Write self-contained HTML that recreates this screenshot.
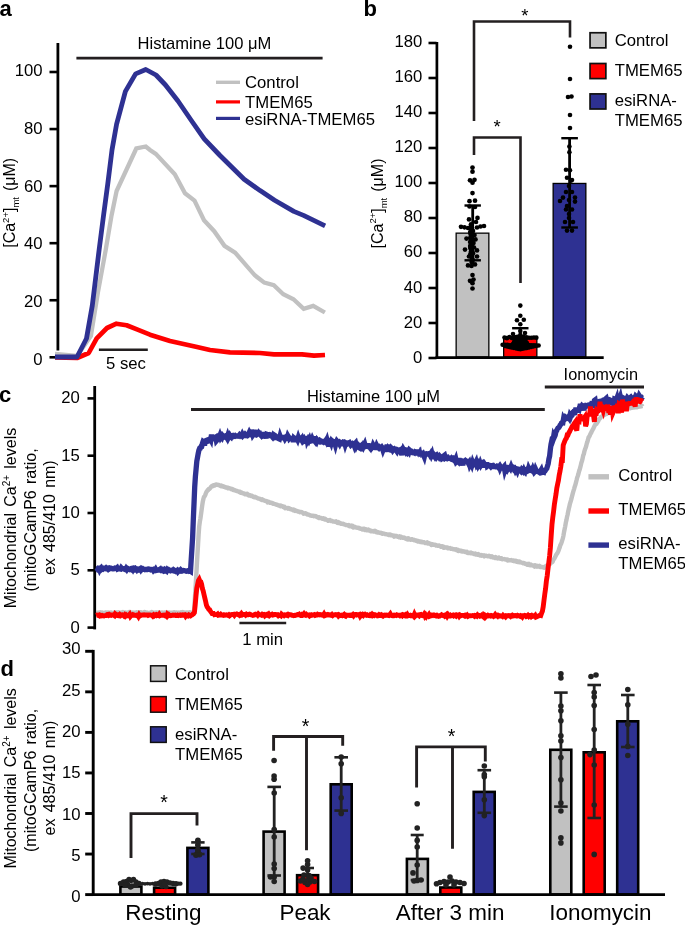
<!DOCTYPE html>
<html><head><meta charset="utf-8"><style>
html,body{margin:0;padding:0;background:#fff;}
svg{display:block;will-change:transform;}
text{font-family:"Liberation Sans",sans-serif;fill:#000;}
</style></head><body>
<svg width="685" height="925" viewBox="0 0 685 925">
<rect width="685" height="925" fill="#fff"/>
<text x="-0.5" y="16" font-size="22" text-anchor="start" font-weight="bold" >a</text>
<line x1="57.9" y1="43" x2="57.9" y2="350.5" stroke="#000" stroke-width="2.8" stroke-linecap="butt"/>
<line x1="49.5" y1="357.3" x2="56" y2="357.3" stroke="#000" stroke-width="2.6" stroke-linecap="butt"/>
<text transform="translate(42.6,364.8) scale(1.045,1)" font-size="16" text-anchor="end" font-weight="normal" >0</text>
<line x1="49.5" y1="300.24" x2="57.5" y2="300.24" stroke="#000" stroke-width="2.6" stroke-linecap="butt"/>
<text transform="translate(42.6,307.12) scale(1.045,1)" font-size="16" text-anchor="end" font-weight="normal" >20</text>
<line x1="49.5" y1="243.18" x2="57.5" y2="243.18" stroke="#000" stroke-width="2.6" stroke-linecap="butt"/>
<text transform="translate(42.6,249.44) scale(1.045,1)" font-size="16" text-anchor="end" font-weight="normal" >40</text>
<line x1="49.5" y1="186.12" x2="57.5" y2="186.12" stroke="#000" stroke-width="2.6" stroke-linecap="butt"/>
<text transform="translate(42.6,191.76000000000002) scale(1.045,1)" font-size="16" text-anchor="end" font-weight="normal" >60</text>
<line x1="49.5" y1="129.06" x2="57.5" y2="129.06" stroke="#000" stroke-width="2.6" stroke-linecap="butt"/>
<text transform="translate(42.6,134.08) scale(1.045,1)" font-size="16" text-anchor="end" font-weight="normal" >80</text>
<line x1="49.5" y1="72.0" x2="57.5" y2="72.0" stroke="#000" stroke-width="2.6" stroke-linecap="butt"/>
<text transform="translate(42.6,76.40000000000002) scale(1.045,1)" font-size="16" text-anchor="end" font-weight="normal" >100</text>
<text transform="translate(15,202.8) rotate(-90)" font-size="16" text-anchor="middle">[Ca<tspan font-size="9.5" dy="-6.5">2+</tspan><tspan dy="6.5">]</tspan><tspan font-size="9.5" dy="4.2">mt</tspan><tspan dy="-4.2" dx="1.6"> (μM)</tspan></text>
<line x1="76.4" y1="58.1" x2="322.6" y2="58.1" stroke="#231f20" stroke-width="2.8" stroke-linecap="butt"/>
<text transform="translate(137.6,49) scale(1.035,1)" font-size="16" text-anchor="start" font-weight="normal" >Histamine 100 μM</text>
<polyline points="55.00,354.00 77.00,356.00 90.90,336.00 98.00,292.00 105.70,250.00 111.50,215.70 116.60,191.00 136.30,148.50 145.80,146.50 150.00,150.00 155.80,153.90 174.80,174.30 185.00,193.30 194.50,200.60 204.00,220.30 214.20,231.20 224.50,245.80 235.10,252.60 254.80,275.30 264.30,282.60 273.80,285.20 283.30,294.20 293.50,299.30 303.70,308.80 313.20,305.90 324.90,312.50" fill="none" stroke="#c1c1c1" stroke-width="4.3" stroke-linejoin="miter" stroke-linecap="butt"/>
<polyline points="55.00,357.50 77.00,358.00 88.70,353.00 96.70,338.30 107.00,328.00 116.40,323.70 126.60,325.20 137.60,329.60 150.00,334.70 170.00,341.00 197.00,347.00 210.00,350.00 230.00,352.40 260.00,353.00 274.00,354.40 302.00,354.40 314.00,355.60 325.00,355.00" fill="none" stroke="#ff0000" stroke-width="4.7" stroke-linejoin="round" stroke-linecap="butt"/>
<polyline points="55.00,357.00 77.00,357.00 86.50,338.50 92.30,305.50 99.10,250.00 103.50,215.70 107.80,183.60 112.00,150.00 116.60,124.20 125.40,91.40 135.60,73.90 145.80,69.50 156.00,75.00 165.50,85.00 178.00,101.00 191.00,120.00 204.20,138.80 220.00,155.50 244.10,179.30 260.10,190.60 274.60,200.20 293.80,211.40 303.50,215.40 325.10,225.90" fill="none" stroke="#2e3192" stroke-width="4.8" stroke-linejoin="round" stroke-linecap="butt"/>
<line x1="216" y1="82.3" x2="240" y2="82.3" stroke="#c1c1c1" stroke-width="3.4" stroke-linecap="butt"/>
<line x1="216" y1="101.9" x2="240" y2="101.9" stroke="#ff0000" stroke-width="3.2" stroke-linecap="butt"/>
<line x1="216" y1="118.4" x2="240" y2="118.4" stroke="#2e3192" stroke-width="3.2" stroke-linecap="butt"/>
<text transform="translate(245,88) scale(1.045,1)" font-size="16" text-anchor="start" font-weight="normal" >Control</text>
<text transform="translate(245,107.5) scale(1.045,1)" font-size="16" text-anchor="start" font-weight="normal" >TMEM65</text>
<text transform="translate(245,125) scale(1.045,1)" font-size="16" text-anchor="start" font-weight="normal" >esiRNA-TMEM65</text>
<line x1="98.9" y1="349.7" x2="147.8" y2="349.7" stroke="#231f20" stroke-width="2.6" stroke-linecap="butt"/>
<text transform="translate(106,368.8) scale(1.045,1)" font-size="16" text-anchor="start" font-weight="normal" >5 sec</text>
<text x="363.5" y="15.8" font-size="22" text-anchor="start" font-weight="bold" >b</text>
<line x1="436.9" y1="42" x2="436.9" y2="358" stroke="#000" stroke-width="2.7" stroke-linecap="butt"/>
<line x1="428.5" y1="358.0" x2="436.5" y2="358.0" stroke="#000" stroke-width="2.6" stroke-linecap="butt"/>
<text transform="translate(422.3,362.8) scale(1.045,1)" font-size="16" text-anchor="end" font-weight="normal" >0</text>
<line x1="428.5" y1="323.0" x2="436.5" y2="323.0" stroke="#000" stroke-width="2.6" stroke-linecap="butt"/>
<text transform="translate(422.3,327.688) scale(1.045,1)" font-size="16" text-anchor="end" font-weight="normal" >20</text>
<line x1="428.5" y1="288.0" x2="436.5" y2="288.0" stroke="#000" stroke-width="2.6" stroke-linecap="butt"/>
<text transform="translate(422.3,292.576) scale(1.045,1)" font-size="16" text-anchor="end" font-weight="normal" >40</text>
<line x1="428.5" y1="253.0" x2="436.5" y2="253.0" stroke="#000" stroke-width="2.6" stroke-linecap="butt"/>
<text transform="translate(422.3,257.464) scale(1.045,1)" font-size="16" text-anchor="end" font-weight="normal" >60</text>
<line x1="428.5" y1="218.0" x2="436.5" y2="218.0" stroke="#000" stroke-width="2.6" stroke-linecap="butt"/>
<text transform="translate(422.3,222.352) scale(1.045,1)" font-size="16" text-anchor="end" font-weight="normal" >80</text>
<line x1="428.5" y1="183.0" x2="436.5" y2="183.0" stroke="#000" stroke-width="2.6" stroke-linecap="butt"/>
<text transform="translate(422.3,187.24) scale(1.045,1)" font-size="16" text-anchor="end" font-weight="normal" >100</text>
<line x1="428.5" y1="148.0" x2="436.5" y2="148.0" stroke="#000" stroke-width="2.6" stroke-linecap="butt"/>
<text transform="translate(422.3,152.12800000000001) scale(1.045,1)" font-size="16" text-anchor="end" font-weight="normal" >120</text>
<line x1="428.5" y1="113.0" x2="436.5" y2="113.0" stroke="#000" stroke-width="2.6" stroke-linecap="butt"/>
<text transform="translate(422.3,117.01599999999998) scale(1.045,1)" font-size="16" text-anchor="end" font-weight="normal" >140</text>
<line x1="428.5" y1="78.0" x2="436.5" y2="78.0" stroke="#000" stroke-width="2.6" stroke-linecap="butt"/>
<text transform="translate(422.3,81.90399999999998) scale(1.045,1)" font-size="16" text-anchor="end" font-weight="normal" >160</text>
<line x1="428.5" y1="43.0" x2="436.5" y2="43.0" stroke="#000" stroke-width="2.6" stroke-linecap="butt"/>
<text transform="translate(422.3,46.792000000000016) scale(1.045,1)" font-size="16" text-anchor="end" font-weight="normal" >180</text>
<text transform="translate(382.6,203.5) rotate(-90)" font-size="16" text-anchor="middle">[Ca<tspan font-size="9.5" dy="-6.5">2+</tspan><tspan dy="6.5">]</tspan><tspan font-size="9.5" dy="4.2">mt</tspan><tspan dy="-4.2" dx="1.6"> (μM)</tspan></text>
<rect x="456.15" y="233.15" width="32.7" height="123.85" fill="#c1c1c1" stroke="#000" stroke-width="1.3"/>
<rect x="503.65" y="337.95" width="33.2" height="19.04999999999999" fill="#ff0000" stroke="#000" stroke-width="1.3"/>
<rect x="553.15" y="183.45000000000002" width="32.7" height="173.54999999999998" fill="#2e3192" stroke="#000" stroke-width="1.3"/>
<line x1="435.5" y1="357.6" x2="603.7" y2="357.6" stroke="#000" stroke-width="2.6" stroke-linecap="butt"/>
<circle cx="472.5" cy="167.6" r="2.35" fill="#000"/>
<circle cx="472.5" cy="171.7" r="2.35" fill="#000"/>
<circle cx="470" cy="180.3" r="2.35" fill="#000"/>
<circle cx="474.5" cy="179.8" r="2.35" fill="#000"/>
<circle cx="472.5" cy="182.7" r="2.35" fill="#000"/>
<circle cx="472.5" cy="193.1" r="2.35" fill="#000"/>
<circle cx="469.5" cy="201.2" r="2.35" fill="#000"/>
<circle cx="475" cy="200.7" r="2.35" fill="#000"/>
<circle cx="469.5" cy="206.5" r="2.35" fill="#000"/>
<circle cx="475" cy="207" r="2.35" fill="#000"/>
<circle cx="469" cy="219.4" r="2.35" fill="#000"/>
<circle cx="477.5" cy="217.9" r="2.35" fill="#000"/>
<circle cx="476" cy="222" r="2.35" fill="#000"/>
<circle cx="471" cy="224.3" r="2.35" fill="#000"/>
<circle cx="461" cy="226.8" r="2.35" fill="#000"/>
<circle cx="464.5" cy="227.3" r="2.35" fill="#000"/>
<circle cx="468" cy="228" r="2.35" fill="#000"/>
<circle cx="477" cy="227.5" r="2.35" fill="#000"/>
<circle cx="480.5" cy="226.5" r="2.35" fill="#000"/>
<circle cx="484" cy="226" r="2.35" fill="#000"/>
<circle cx="472" cy="229" r="2.35" fill="#000"/>
<circle cx="473" cy="231" r="2.35" fill="#000"/>
<circle cx="470.5" cy="234" r="2.35" fill="#000"/>
<circle cx="474.5" cy="235" r="2.35" fill="#000"/>
<circle cx="466.5" cy="238.6" r="2.35" fill="#000"/>
<circle cx="475.5" cy="239.4" r="2.35" fill="#000"/>
<circle cx="471" cy="241" r="2.35" fill="#000"/>
<circle cx="473.5" cy="243" r="2.35" fill="#000"/>
<circle cx="470.5" cy="246" r="2.35" fill="#000"/>
<circle cx="474" cy="247.5" r="2.35" fill="#000"/>
<circle cx="465" cy="249.6" r="2.35" fill="#000"/>
<circle cx="477" cy="250.4" r="2.35" fill="#000"/>
<circle cx="471" cy="251.5" r="2.35" fill="#000"/>
<circle cx="473" cy="253.5" r="2.35" fill="#000"/>
<circle cx="469" cy="256.5" r="2.35" fill="#000"/>
<circle cx="477" cy="256.5" r="2.35" fill="#000"/>
<circle cx="472" cy="258" r="2.35" fill="#000"/>
<circle cx="468" cy="265.4" r="2.35" fill="#000"/>
<circle cx="475" cy="264.4" r="2.35" fill="#000"/>
<circle cx="471.5" cy="266" r="2.35" fill="#000"/>
<circle cx="472.5" cy="275.1" r="2.35" fill="#000"/>
<circle cx="470" cy="280.8" r="2.35" fill="#000"/>
<circle cx="473.5" cy="279.6" r="2.35" fill="#000"/>
<circle cx="472.5" cy="283.2" r="2.35" fill="#000"/>
<circle cx="472.5" cy="288.5" r="2.35" fill="#000"/>
<circle cx="472" cy="237" r="2.35" fill="#000"/>
<circle cx="472" cy="245" r="2.35" fill="#000"/>
<circle cx="472" cy="262" r="2.35" fill="#000"/>
<circle cx="470.9714982944995" cy="226" r="2.35" fill="#000"/>
<circle cx="470.4525475217735" cy="228" r="2.35" fill="#000"/>
<circle cx="471.95280341911956" cy="230" r="2.35" fill="#000"/>
<circle cx="470.2173088600026" cy="232" r="2.35" fill="#000"/>
<circle cx="471.60764601292004" cy="234" r="2.35" fill="#000"/>
<circle cx="471.0970667507378" cy="236" r="2.35" fill="#000"/>
<circle cx="470.1739967743241" cy="238" r="2.35" fill="#000"/>
<circle cx="471.5223071995683" cy="240" r="2.35" fill="#000"/>
<circle cx="470.11248697532596" cy="242" r="2.35" fill="#000"/>
<circle cx="471.30093705098716" cy="244" r="2.35" fill="#000"/>
<circle cx="470.2095662707239" cy="246" r="2.35" fill="#000"/>
<circle cx="470.2721390400316" cy="248" r="2.35" fill="#000"/>
<circle cx="471.27355756742753" cy="250" r="2.35" fill="#000"/>
<circle cx="472.4805563740161" cy="252" r="2.35" fill="#000"/>
<circle cx="470.3714058834489" cy="254" r="2.35" fill="#000"/>
<circle cx="470.66971689382103" cy="256" r="2.35" fill="#000"/>
<circle cx="471.8822996672168" cy="258" r="2.35" fill="#000"/>
<circle cx="472.843126827371" cy="260" r="2.35" fill="#000"/>
<circle cx="471.7313088458525" cy="262" r="2.35" fill="#000"/>
<line x1="472.7" y1="205.5" x2="472.7" y2="260.3" stroke="#000" stroke-width="2.8" stroke-linecap="butt"/>
<line x1="464.5" y1="205.5" x2="480.9" y2="205.5" stroke="#000" stroke-width="2.4" stroke-linecap="butt"/>
<line x1="464.5" y1="260.3" x2="480.9" y2="260.3" stroke="#000" stroke-width="2.4" stroke-linecap="butt"/>
<circle cx="520.3" cy="305.6" r="2.3" fill="#000"/>
<circle cx="520.3" cy="315.8" r="2.3" fill="#000"/>
<circle cx="517" cy="320.2" r="2.3" fill="#000"/>
<circle cx="523.8" cy="319.7" r="2.3" fill="#000"/>
<circle cx="520.3" cy="324.2" r="2.3" fill="#000"/>
<circle cx="513" cy="334" r="2.3" fill="#000"/>
<circle cx="525" cy="333" r="2.3" fill="#000"/>
<circle cx="520.3" cy="331" r="2.3" fill="#000"/>
<circle cx="520.3" cy="335" r="2.3" fill="#000"/>
<line x1="520.3" y1="328.2" x2="520.3" y2="343" stroke="#000" stroke-width="2.8" stroke-linecap="butt"/>
<line x1="512.0999999999999" y1="328.2" x2="528.5" y2="328.2" stroke="#000" stroke-width="2.4" stroke-linecap="butt"/>
<line x1="512.0999999999999" y1="343" x2="528.5" y2="343" stroke="#000" stroke-width="2.4" stroke-linecap="butt"/>
<circle cx="504.5" cy="337.47601656958096" r="2.3" fill="#000"/>
<circle cx="506.95" cy="338.1715061267115" r="2.3" fill="#000"/>
<circle cx="509.4" cy="337.05589921674135" r="2.3" fill="#000"/>
<circle cx="511.85" cy="338.0301621508584" r="2.3" fill="#000"/>
<circle cx="514.3" cy="337.347531143598" r="2.3" fill="#000"/>
<circle cx="516.75" cy="337.173106100029" r="2.3" fill="#000"/>
<circle cx="519.2" cy="337.1413506856941" r="2.3" fill="#000"/>
<circle cx="521.65" cy="337.37017818892235" r="2.3" fill="#000"/>
<circle cx="524.1" cy="337.97935163094405" r="2.3" fill="#000"/>
<circle cx="526.55" cy="337.21687165590873" r="2.3" fill="#000"/>
<circle cx="529.0" cy="337.697920196395" r="2.3" fill="#000"/>
<circle cx="531.45" cy="337.76669616271147" r="2.3" fill="#000"/>
<circle cx="533.9" cy="337.4468770512709" r="2.3" fill="#000"/>
<circle cx="536.35" cy="337.6572933588515" r="2.3" fill="#000"/>
<circle cx="502.6" cy="344.7627889749733" r="2.3" fill="#000"/>
<circle cx="505.0" cy="344.75960116996623" r="2.3" fill="#000"/>
<circle cx="507.40000000000003" cy="344.9059587128193" r="2.3" fill="#000"/>
<circle cx="509.8" cy="345.3803999731818" r="2.3" fill="#000"/>
<circle cx="512.2" cy="345.1275923056694" r="2.3" fill="#000"/>
<circle cx="514.6" cy="345.01414717037676" r="2.3" fill="#000"/>
<circle cx="517.0" cy="345.2855618635076" r="2.3" fill="#000"/>
<circle cx="519.4" cy="345.15318437637075" r="2.3" fill="#000"/>
<circle cx="521.8000000000001" cy="344.9997669968637" r="2.3" fill="#000"/>
<circle cx="524.2" cy="345.49437948152246" r="2.3" fill="#000"/>
<circle cx="526.6" cy="345.39899443372957" r="2.3" fill="#000"/>
<circle cx="529.0" cy="344.94409651072215" r="2.3" fill="#000"/>
<circle cx="531.4" cy="345.27442371025865" r="2.3" fill="#000"/>
<circle cx="533.8000000000001" cy="345.22519650381145" r="2.3" fill="#000"/>
<circle cx="536.2" cy="345.5751374955734" r="2.3" fill="#000"/>
<circle cx="538.6" cy="345.42944528943923" r="2.3" fill="#000"/>
<circle cx="505.0" cy="345.934" r="2.3" fill="#000"/>
<circle cx="507.2" cy="346.418" r="2.3" fill="#000"/>
<circle cx="509.4" cy="346.90200000000004" r="2.3" fill="#000"/>
<circle cx="511.6" cy="347.386" r="2.3" fill="#000"/>
<circle cx="513.8" cy="347.87" r="2.3" fill="#000"/>
<circle cx="516.0" cy="348.35400000000004" r="2.3" fill="#000"/>
<circle cx="518.2" cy="348.838" r="2.3" fill="#000"/>
<circle cx="520.4" cy="349.278" r="2.3" fill="#000"/>
<circle cx="522.6" cy="348.794" r="2.3" fill="#000"/>
<circle cx="524.8" cy="348.31" r="2.3" fill="#000"/>
<circle cx="527.0" cy="347.826" r="2.3" fill="#000"/>
<circle cx="529.2" cy="347.342" r="2.3" fill="#000"/>
<circle cx="531.4" cy="346.858" r="2.3" fill="#000"/>
<circle cx="533.6" cy="346.374" r="2.3" fill="#000"/>
<circle cx="535.8" cy="345.89" r="2.3" fill="#000"/>
<circle cx="525.6346118812504" cy="339.45525317868226" r="2.3" fill="#000"/>
<circle cx="519.5405801323955" cy="337.41678933905956" r="2.3" fill="#000"/>
<circle cx="514.6701113456376" cy="345.085691154783" r="2.3" fill="#000"/>
<circle cx="514.1803030550544" cy="341.86755720570966" r="2.3" fill="#000"/>
<circle cx="524.3259037678912" cy="344.0185902784127" r="2.3" fill="#000"/>
<circle cx="525.6275345773661" cy="342.8763112833286" r="2.3" fill="#000"/>
<circle cx="522.5241160329317" cy="339.76497015417715" r="2.3" fill="#000"/>
<circle cx="521.4520245039671" cy="343.1324385252602" r="2.3" fill="#000"/>
<circle cx="524.694769474658" cy="341.47446397561697" r="2.3" fill="#000"/>
<circle cx="519.8285235408646" cy="347.33617314129526" r="2.3" fill="#000"/>
<circle cx="513.6341058399652" cy="343.9698264656961" r="2.3" fill="#000"/>
<circle cx="522.5916957858134" cy="344.41790425565307" r="2.3" fill="#000"/>
<circle cx="526.328182035552" cy="347.9171512735996" r="2.3" fill="#000"/>
<circle cx="519.0352964913426" cy="339.4151463851298" r="2.3" fill="#000"/>
<circle cx="513.0327158003948" cy="344.02383259061025" r="2.3" fill="#000"/>
<circle cx="515.9891736448774" cy="341.5403434355972" r="2.3" fill="#000"/>
<circle cx="516.213873861803" cy="337.4051495337808" r="2.3" fill="#000"/>
<circle cx="514.2593886315418" cy="345.21879586167023" r="2.3" fill="#000"/>
<circle cx="519.1359709369345" cy="338.971378004363" r="2.3" fill="#000"/>
<circle cx="512.9973511682696" cy="346.4570636895156" r="2.3" fill="#000"/>
<circle cx="520.9353633435013" cy="341.390248811392" r="2.3" fill="#000"/>
<circle cx="525.9003424670979" cy="346.60060591729814" r="2.3" fill="#000"/>
<circle cx="516.4598083181301" cy="346.3678136363822" r="2.3" fill="#000"/>
<circle cx="518.5367294164424" cy="340.9835582065404" r="2.3" fill="#000"/>
<circle cx="528.3328542228734" cy="346.6103139263786" r="2.3" fill="#000"/>
<circle cx="517.1819942800133" cy="337.81105086949333" r="2.3" fill="#000"/>
<circle cx="517.4986597829961" cy="338.7834824018344" r="2.3" fill="#000"/>
<circle cx="521.4797810690999" cy="341.8195527640963" r="2.3" fill="#000"/>
<circle cx="514.9255333517302" cy="339.1529594315825" r="2.3" fill="#000"/>
<circle cx="518.6624503949175" cy="341.02735801350394" r="2.3" fill="#000"/>
<circle cx="526.6961501670884" cy="342.7960946844767" r="2.3" fill="#000"/>
<circle cx="520.5394562163397" cy="344.28592388563175" r="2.3" fill="#000"/>
<circle cx="522.8848555079499" cy="343.4111129929095" r="2.3" fill="#000"/>
<circle cx="523.7292410664991" cy="336.64791471868546" r="2.3" fill="#000"/>
<circle cx="526.4508811339903" cy="345.3596338884729" r="2.3" fill="#000"/>
<circle cx="518.5116570985055" cy="345.57447745435877" r="2.3" fill="#000"/>
<circle cx="515.4199494296572" cy="340.78774598784327" r="2.3" fill="#000"/>
<circle cx="513.7992368706322" cy="343.6114747882285" r="2.3" fill="#000"/>
<circle cx="517.7582731484254" cy="336.8081713901163" r="2.3" fill="#000"/>
<circle cx="518.7400633550146" cy="337.94763825326515" r="2.3" fill="#000"/>
<circle cx="570" cy="46.8" r="2.3" fill="#000"/>
<circle cx="570" cy="79" r="2.3" fill="#000"/>
<circle cx="568" cy="97" r="2.3" fill="#000"/>
<circle cx="571.5" cy="96.5" r="2.3" fill="#000"/>
<circle cx="570" cy="115" r="2.3" fill="#000"/>
<circle cx="570" cy="128" r="2.3" fill="#000"/>
<circle cx="569.4" cy="146.5" r="2.3" fill="#000"/>
<circle cx="569.4" cy="152.2" r="2.3" fill="#000"/>
<circle cx="566" cy="169.8" r="2.3" fill="#000"/>
<circle cx="570" cy="170.3" r="2.3" fill="#000"/>
<circle cx="567" cy="177.7" r="2.3" fill="#000"/>
<circle cx="572" cy="180" r="2.3" fill="#000"/>
<circle cx="571" cy="180.6" r="2.3" fill="#000"/>
<circle cx="566" cy="192" r="2.3" fill="#000"/>
<circle cx="572" cy="192" r="2.3" fill="#000"/>
<circle cx="563" cy="197.6" r="2.3" fill="#000"/>
<circle cx="575" cy="197.6" r="2.3" fill="#000"/>
<circle cx="560" cy="201" r="2.3" fill="#000"/>
<circle cx="575" cy="201.6" r="2.3" fill="#000"/>
<circle cx="567" cy="206" r="2.3" fill="#000"/>
<circle cx="566" cy="209.5" r="2.3" fill="#000"/>
<circle cx="572" cy="209.5" r="2.3" fill="#000"/>
<circle cx="569" cy="214" r="2.3" fill="#000"/>
<circle cx="565" cy="222" r="2.3" fill="#000"/>
<circle cx="573" cy="222" r="2.3" fill="#000"/>
<circle cx="567" cy="230.6" r="2.3" fill="#000"/>
<circle cx="572" cy="230.6" r="2.3" fill="#000"/>
<circle cx="569" cy="186" r="2.3" fill="#000"/>
<circle cx="569" cy="200" r="2.3" fill="#000"/>
<circle cx="569" cy="218" r="2.3" fill="#000"/>
<line x1="569.6" y1="138.2" x2="569.6" y2="227.5" stroke="#000" stroke-width="2.8" stroke-linecap="butt"/>
<line x1="561.3000000000001" y1="138.2" x2="577.9" y2="138.2" stroke="#000" stroke-width="2.4" stroke-linecap="butt"/>
<line x1="561.3000000000001" y1="227.5" x2="577.9" y2="227.5" stroke="#000" stroke-width="2.4" stroke-linecap="butt"/>
<path d="M474,121 V21.5 H570 V37.5" fill="none" stroke="#231f20" stroke-width="2.6"/>
<path d="M474,155 V137.5 H520.5 V283" fill="none" stroke="#231f20" stroke-width="2.6"/>
<text x="524.8" y="22.39" font-size="18.5" text-anchor="middle">*</text>
<text x="497.1" y="133.29" font-size="18.5" text-anchor="middle">*</text>
<rect x="590.05" y="32.75" width="15.8" height="15.1" fill="#c1c1c1" stroke="#111" stroke-width="1.7"/>
<rect x="590.05" y="63.5" width="15.8" height="15.1" fill="#ff0000" stroke="#111" stroke-width="1.7"/>
<rect x="590.05" y="93.9" width="15.8" height="15.1" fill="#2e3192" stroke="#111" stroke-width="1.7"/>
<text transform="translate(614.7,46.2) scale(1.045,1)" font-size="16" text-anchor="start" font-weight="normal" >Control</text>
<text transform="translate(614.7,75.8) scale(1.045,1)" font-size="16" text-anchor="start" font-weight="normal" >TMEM65</text>
<text transform="translate(614.7,106.2) scale(1.045,1)" font-size="16" text-anchor="start" font-weight="normal" >esiRNA-</text>
<text transform="translate(614.7,126.2) scale(1.045,1)" font-size="16" text-anchor="start" font-weight="normal" >TMEM65</text>
<text x="-0.9" y="401.6" font-size="22" text-anchor="start" font-weight="bold" >c</text>
<line x1="94.7" y1="386" x2="94.7" y2="629.4" stroke="#000" stroke-width="2.8" stroke-linecap="butt"/>
<line x1="87.5" y1="627.6" x2="94.7" y2="627.6" stroke="#000" stroke-width="2.6" stroke-linecap="butt"/>
<text transform="translate(79.8,632.5) scale(1.045,1)" font-size="16" text-anchor="end" font-weight="normal" >0</text>
<line x1="87.5" y1="570.3000000000001" x2="94.7" y2="570.3000000000001" stroke="#000" stroke-width="2.6" stroke-linecap="butt"/>
<text transform="translate(79.8,575.2) scale(1.045,1)" font-size="16" text-anchor="end" font-weight="normal" >5</text>
<line x1="87.5" y1="513.0" x2="94.7" y2="513.0" stroke="#000" stroke-width="2.6" stroke-linecap="butt"/>
<text transform="translate(79.8,517.9) scale(1.045,1)" font-size="16" text-anchor="end" font-weight="normal" >10</text>
<line x1="87.5" y1="455.70000000000005" x2="94.7" y2="455.70000000000005" stroke="#000" stroke-width="2.6" stroke-linecap="butt"/>
<text transform="translate(79.8,460.6000000000001) scale(1.045,1)" font-size="16" text-anchor="end" font-weight="normal" >15</text>
<line x1="87.5" y1="398.4" x2="94.7" y2="398.4" stroke="#000" stroke-width="2.6" stroke-linecap="butt"/>
<text transform="translate(79.8,403.3) scale(1.045,1)" font-size="16" text-anchor="end" font-weight="normal" >20</text>
<text transform="translate(55.5,520) rotate(-90)" font-size="16" text-anchor="middle" word-spacing="1.8"><tspan x="2" y="-40">Mitochondrial Ca<tspan font-size="10" dy="-6">2+</tspan><tspan dy="6"> levels</tspan></tspan><tspan x="0" y="-19.8">(mitoGCamP6 ratio,</tspan><tspan x="2.3" y="-0.3">ex 485/410 nm)</tspan></text>
<line x1="191" y1="409.5" x2="544.8" y2="409.5" stroke="#231f20" stroke-width="2.8" stroke-linecap="butt"/>
<text transform="translate(306.9,401.5) scale(1.03,1)" font-size="16" text-anchor="start" font-weight="normal" >Histamine 100 μM</text>
<line x1="544.8" y1="387" x2="644" y2="387" stroke="#231f20" stroke-width="2.8" stroke-linecap="butt"/>
<text transform="translate(563.6,380.2) scale(1.02,1)" font-size="16" text-anchor="start" font-weight="normal" >Ionomycin</text>
<line x1="239.4" y1="623" x2="286.2" y2="623" stroke="#231f20" stroke-width="2.6" stroke-linecap="butt"/>
<text transform="translate(242.2,644.5) scale(1.045,1)" font-size="16" text-anchor="start" font-weight="normal" >1 min</text>
<polyline points="96.00,612.61 96.60,612.60 97.20,612.68 97.80,612.72 98.40,612.56 99.00,612.66 99.60,612.90 100.20,612.31 100.80,612.75 101.40,612.80 102.00,612.45 102.60,612.85 103.20,613.03 103.80,613.02 104.40,612.95 105.00,612.60 105.60,612.49 106.20,612.63 106.80,612.84 107.40,612.79 108.00,612.57 108.60,613.19 109.20,612.66 109.80,612.68 110.40,612.98 111.00,612.52 111.60,612.86 112.20,612.93 112.80,613.00 113.40,612.70 114.00,613.23 114.60,612.56 115.20,612.56 115.80,612.42 116.40,612.52 117.00,612.78 117.60,612.70 118.20,612.28 118.80,612.70 119.40,612.39 120.00,612.74 120.60,613.19 121.20,613.24 121.80,612.60 122.40,612.85 123.00,612.14 123.60,612.65 124.20,612.45 124.80,612.38 125.40,612.63 126.00,612.73 126.60,612.68 127.20,612.62 127.80,612.90 128.40,612.40 129.00,611.97 129.60,612.00 130.20,612.90 130.80,613.42 131.40,612.62 132.00,612.54 132.60,612.84 133.20,612.71 133.80,612.88 134.40,612.80 135.00,613.09 135.60,613.15 136.20,612.35 136.80,612.25 137.40,612.74 138.00,612.73 138.60,612.57 139.20,612.34 139.80,612.14 140.40,612.80 141.00,612.21 141.60,612.51 142.20,612.72 142.80,612.77 143.40,612.44 144.00,612.95 144.60,611.94 145.20,612.46 145.80,612.89 146.40,613.16 147.00,612.55 147.60,612.79 148.20,612.85 148.80,613.09 149.40,613.24 150.00,612.77 150.60,612.56 151.20,613.11 151.80,611.97 152.40,612.57 153.00,612.49 153.60,612.57 154.20,612.68 154.80,613.52 155.40,612.80 156.00,612.51 156.60,612.43 157.20,613.02 157.80,612.60 158.40,613.12 159.00,612.33 159.60,612.79 160.20,612.96 160.80,612.68 161.40,612.95 162.00,612.54 162.60,612.62 163.20,612.60 163.80,612.82 164.40,612.98 165.00,612.60 165.60,612.36 166.20,612.85 166.80,613.01 167.40,612.57 168.00,613.06 168.60,612.58 169.20,612.40 169.80,612.68 170.40,613.08 171.00,612.80 171.60,612.77 172.20,612.79 172.80,612.82 173.40,612.59 174.00,612.29 174.60,612.85 175.20,612.52 175.80,612.68 176.40,612.39 177.00,612.73 177.60,612.80 178.20,612.64 178.80,612.57 179.40,612.69 180.00,612.69 180.60,613.29 181.20,612.40 181.80,612.76 182.40,612.83 183.00,612.12 183.60,612.40 184.20,612.93 184.80,612.43 185.40,612.78 186.00,612.68 186.60,612.48 187.20,612.46 187.80,612.72 188.40,613.23 189.00,612.63 189.60,613.31 190.20,612.31 190.80,612.82 191.40,613.25 192.00,613.44 192.60,612.73 193.20,613.06 193.80,613.11 194.40,606.29 195.00,596.54 195.60,586.61 196.20,576.65 196.80,565.88 197.40,555.27 198.00,545.47 198.60,534.83 199.20,526.51 199.80,521.97 200.40,518.59 201.00,514.49 201.60,510.01 202.20,505.56 202.80,501.69 203.40,499.01 204.00,496.84 204.60,496.47 205.20,495.14 205.80,493.55 206.40,492.02 207.00,491.15 207.60,490.29 208.20,489.97 208.80,489.00 209.40,489.04 210.00,488.38 210.60,487.45 211.20,486.75 211.80,486.22 212.40,485.63 213.00,485.97 213.60,485.25 214.20,485.11 214.80,485.41 215.40,484.59 216.00,484.54 216.60,484.54 217.20,484.71 217.80,484.96 218.40,485.08 219.00,484.97 219.60,485.58 220.20,485.75 220.80,486.15 221.40,485.55 222.00,485.99 222.60,486.36 223.20,486.72 223.80,486.37 224.40,486.71 225.00,486.81 225.60,487.55 226.20,487.47 226.80,487.40 227.40,487.74 228.00,488.27 228.60,487.90 229.20,488.29 229.80,488.32 230.40,488.71 231.00,488.76 231.60,489.27 232.20,489.02 232.80,489.28 233.40,490.01 234.00,490.11 234.60,490.00 235.20,490.57 235.80,490.80 236.40,490.75 237.00,491.09 237.60,491.21 238.20,491.45 238.80,491.66 239.40,492.04 240.00,491.83 240.60,492.69 241.20,492.33 241.80,492.97 242.40,492.96 243.00,493.30 243.60,493.49 244.20,493.50 244.80,494.17 245.40,493.94 246.00,493.92 246.60,494.25 247.20,493.83 247.80,494.84 248.40,495.38 249.00,495.49 249.60,495.04 250.20,495.71 250.80,495.93 251.40,495.73 252.00,495.74 252.60,496.39 253.20,496.89 253.80,496.80 254.40,497.27 255.00,496.84 255.60,497.26 256.20,497.44 256.80,497.82 257.40,498.17 258.00,498.38 258.60,498.59 259.20,498.71 259.80,498.70 260.40,499.21 261.00,499.46 261.60,499.89 262.20,499.26 262.80,499.86 263.40,499.98 264.00,500.41 264.60,500.86 265.20,500.65 265.80,501.07 266.40,501.02 267.00,501.53 267.60,502.44 268.20,501.68 268.80,501.87 269.40,502.22 270.00,502.75 270.60,502.64 271.20,502.88 271.80,503.10 272.40,503.03 273.00,503.71 273.60,503.47 274.20,503.86 274.80,504.03 275.40,504.25 276.00,504.44 276.60,504.77 277.20,504.77 277.80,505.09 278.40,505.48 279.00,505.46 279.60,505.66 280.20,506.21 280.80,505.52 281.40,506.11 282.00,506.14 282.60,506.20 283.20,507.01 283.80,506.78 284.40,506.78 285.00,508.15 285.60,507.85 286.20,508.15 286.80,507.90 287.40,508.08 288.00,508.67 288.60,508.00 289.20,508.40 289.80,508.58 290.40,509.18 291.00,509.15 291.60,509.13 292.20,509.61 292.80,510.12 293.40,509.55 294.00,510.38 294.60,510.03 295.20,510.92 295.80,510.46 296.40,510.84 297.00,510.90 297.60,511.44 298.20,511.49 298.80,511.55 299.40,511.93 300.00,512.20 300.60,511.85 301.20,512.07 301.80,512.24 302.40,512.57 303.00,512.58 303.60,513.62 304.20,513.27 304.80,513.44 305.40,513.27 306.00,513.37 306.60,513.88 307.20,514.61 307.80,514.54 308.40,514.52 309.00,514.82 309.60,514.83 310.20,515.54 310.80,515.36 311.40,515.86 312.00,515.89 312.60,515.66 313.20,515.62 313.80,516.27 314.40,516.00 315.00,515.90 315.60,516.21 316.20,516.41 316.80,517.01 317.40,517.11 318.00,517.18 318.60,517.85 319.20,517.39 319.80,518.05 320.40,517.95 321.00,518.02 321.60,518.12 322.20,518.79 322.80,518.34 323.40,518.25 324.00,518.74 324.60,519.35 325.20,518.83 325.80,519.40 326.40,519.96 327.00,520.09 327.60,520.08 328.20,520.77 328.80,520.20 329.40,520.29 330.00,519.94 330.60,520.78 331.20,521.13 331.80,520.90 332.40,521.11 333.00,521.50 333.60,521.66 334.20,521.56 334.80,521.65 335.40,521.87 336.00,521.39 336.60,522.17 337.20,522.82 337.80,523.02 338.40,522.15 339.00,522.91 339.60,523.04 340.20,523.06 340.80,523.71 341.40,523.39 342.00,523.79 342.60,523.93 343.20,523.76 343.80,524.27 344.40,524.37 345.00,524.74 345.60,524.60 346.20,525.13 346.80,525.09 347.40,525.23 348.00,525.41 348.60,525.00 349.20,526.23 349.80,526.37 350.40,525.91 351.00,525.60 351.60,526.32 352.20,526.82 352.80,525.82 353.40,527.50 354.00,526.70 354.60,526.92 355.20,526.99 355.80,527.45 356.40,527.61 357.00,527.65 357.60,527.86 358.20,527.66 358.80,528.21 359.40,528.05 360.00,528.24 360.60,528.76 361.20,528.64 361.80,528.94 362.40,529.40 363.00,528.77 363.60,529.23 364.20,528.81 364.80,529.94 365.40,529.10 366.00,529.14 366.60,529.59 367.20,530.33 367.80,530.15 368.40,529.65 369.00,530.42 369.60,530.25 370.20,530.34 370.80,531.32 371.40,531.00 372.00,531.16 372.60,531.30 373.20,531.05 373.80,531.54 374.40,531.40 375.00,530.77 375.60,531.70 376.20,532.30 376.80,531.87 377.40,532.49 378.00,532.11 378.60,532.50 379.20,532.63 379.80,532.83 380.40,533.08 381.00,532.73 381.60,533.18 382.20,533.83 382.80,533.65 383.40,533.45 384.00,533.71 384.60,533.87 385.20,534.08 385.80,534.13 386.40,534.30 387.00,534.37 387.60,534.36 388.20,534.90 388.80,535.03 389.40,534.46 390.00,534.65 390.60,535.21 391.20,534.89 391.80,535.27 392.40,535.39 393.00,535.67 393.60,535.58 394.20,536.62 394.80,536.23 395.40,536.36 396.00,535.83 396.60,535.94 397.20,536.56 397.80,536.87 398.40,536.78 399.00,537.21 399.60,536.34 400.20,537.42 400.80,537.66 401.40,536.94 402.00,537.65 402.60,537.71 403.20,537.68 403.80,537.35 404.40,537.71 405.00,538.30 405.60,538.67 406.20,538.50 406.80,539.14 407.40,538.52 408.00,539.39 408.60,538.40 409.20,539.17 409.80,539.44 410.40,539.64 411.00,539.87 411.60,539.40 412.20,539.18 412.80,539.89 413.40,539.67 414.00,540.26 414.60,540.03 415.20,540.41 415.80,540.60 416.40,540.80 417.00,540.68 417.60,541.40 418.20,540.95 418.80,541.24 419.40,541.57 420.00,541.55 420.60,542.12 421.20,541.78 421.80,541.82 422.40,542.42 423.00,542.38 423.60,542.10 424.20,542.35 424.80,542.70 425.40,543.17 426.00,543.16 426.60,543.06 427.20,542.44 427.80,543.50 428.40,543.07 429.00,543.09 429.60,543.50 430.20,543.89 430.80,544.01 431.40,544.89 432.00,544.19 432.60,544.15 433.20,544.88 433.80,544.72 434.40,544.66 435.00,544.66 435.60,545.06 436.20,545.66 436.80,545.54 437.40,545.39 438.00,545.89 438.60,545.82 439.20,545.50 439.80,546.25 440.40,546.34 441.00,546.81 441.60,546.41 442.20,546.22 442.80,546.93 443.40,547.61 444.00,546.77 444.60,547.63 445.20,547.28 445.80,547.60 446.40,547.54 447.00,547.41 447.60,548.13 448.20,547.83 448.80,548.15 449.40,548.40 450.00,547.95 450.60,548.70 451.20,548.77 451.80,548.69 452.40,548.72 453.00,549.15 453.60,549.32 454.20,549.26 454.80,549.53 455.40,549.60 456.00,549.20 456.60,550.23 457.20,550.33 457.80,549.78 458.40,550.94 459.00,550.37 459.60,550.42 460.20,550.82 460.80,551.24 461.40,550.73 462.00,551.49 462.60,551.28 463.20,551.12 463.80,551.66 464.40,551.51 465.00,551.90 465.60,552.11 466.20,552.01 466.80,551.70 467.40,552.88 468.00,552.97 468.60,553.09 469.20,552.76 469.80,553.09 470.40,553.20 471.00,552.59 471.60,553.14 472.20,553.41 472.80,553.22 473.40,553.69 474.00,553.95 474.60,553.81 475.20,553.61 475.80,554.62 476.40,554.55 477.00,554.41 477.60,554.66 478.20,554.10 478.80,554.75 479.40,554.80 480.00,555.51 480.60,555.25 481.20,555.08 481.80,555.71 482.40,555.53 483.00,555.26 483.60,555.42 484.20,556.38 484.80,555.57 485.40,555.69 486.00,555.90 486.60,555.81 487.20,556.16 487.80,556.30 488.40,556.41 489.00,555.82 489.60,556.12 490.20,556.17 490.80,557.03 491.40,556.95 492.00,556.28 492.60,557.25 493.20,557.52 493.80,557.26 494.40,557.45 495.00,557.87 495.60,556.97 496.20,557.80 496.80,558.10 497.40,558.48 498.00,558.05 498.60,557.64 499.20,558.36 499.80,558.00 500.40,558.39 501.00,558.85 501.60,558.39 502.20,559.24 502.80,559.12 503.40,559.14 504.00,559.16 504.60,559.04 505.20,559.44 505.80,559.51 506.40,559.33 507.00,559.60 507.60,560.41 508.20,559.83 508.80,560.24 509.40,560.10 510.00,560.34 510.60,560.40 511.20,559.96 511.80,560.55 512.40,560.44 513.00,560.83 513.60,560.50 514.20,561.18 514.80,560.85 515.40,560.74 516.00,561.54 516.60,561.03 517.20,561.92 517.80,562.01 518.40,561.61 519.00,562.20 519.60,561.59 520.20,562.41 520.80,562.31 521.40,562.63 522.00,562.61 522.60,562.95 523.20,563.25 523.80,562.88 524.40,563.18 525.00,563.77 525.60,564.04 526.20,563.84 526.80,564.10 527.40,564.76 528.00,563.87 528.60,563.82 529.20,565.03 529.80,565.14 530.40,565.31 531.00,564.65 531.60,565.35 532.20,565.34 532.80,565.45 533.40,565.74 534.00,566.00 534.60,566.55 535.20,565.31 535.80,565.67 536.40,565.70 537.00,566.66 537.60,566.11 538.20,566.51 538.80,566.66 539.40,565.93 540.00,567.07 540.60,567.10 541.20,566.80 541.80,566.92 542.40,567.06 543.00,567.39 543.60,567.44 544.20,567.70 544.80,566.79 545.40,566.46 546.00,566.30 546.60,565.91 547.20,565.23 547.80,565.41 548.40,564.69 549.00,564.40 549.60,563.89 550.20,563.82 550.80,562.78 551.40,562.42 552.00,562.27 552.60,561.78 553.20,560.10 553.80,559.29 554.40,558.49 555.00,557.34 555.60,556.06 556.20,554.78 556.80,553.93 557.40,553.15 558.00,552.06 558.60,550.54 559.20,548.66 559.80,547.10 560.40,545.00 561.00,544.12 561.60,542.40 562.20,540.41 562.80,538.64 563.40,535.84 564.00,532.29 564.60,529.21 565.20,526.34 565.80,522.84 566.40,520.31 567.00,517.06 567.60,514.74 568.20,511.42 568.80,508.82 569.40,506.21 570.00,503.54 570.60,501.60 571.20,499.63 571.80,497.24 572.40,494.88 573.00,492.68 573.60,490.53 574.20,488.58 574.80,486.40 575.40,484.72 576.00,482.38 576.60,480.07 577.20,477.48 577.80,475.94 578.40,473.99 579.00,471.53 579.60,469.84 580.20,467.62 580.80,465.22 581.40,462.60 582.00,461.07 582.60,458.41 583.20,455.46 583.80,454.18 584.40,451.30 585.00,449.28 585.60,447.90 586.20,446.01 586.80,443.57 587.40,441.77 588.00,439.74 588.60,437.33 589.20,436.67 589.80,435.57 590.40,433.87 591.00,433.17 591.60,431.63 592.20,430.64 592.80,429.33 593.40,428.60 594.00,426.97 594.60,425.88 595.20,424.62 595.80,424.04 596.40,423.94 597.00,422.67 597.60,421.99 598.20,421.11 598.80,419.59 599.40,419.01 600.00,418.18 600.60,417.74 601.20,416.71 601.80,416.45 602.40,416.04 603.00,415.57 603.60,415.40 604.20,415.10 604.80,414.44 605.40,414.08 606.00,413.98 606.60,414.06 607.20,413.24 607.80,412.47 608.40,412.56 609.00,412.34 609.60,411.78 610.20,411.44 610.80,411.05 611.40,411.06 612.00,410.49 612.60,410.78 613.20,410.90 613.80,410.42 614.40,410.57 615.00,410.21 615.60,409.86 616.20,409.27 616.80,409.79 617.40,409.40 618.00,408.58 618.60,409.45 619.20,409.18 619.80,409.18 620.40,409.16 621.00,408.60 621.60,408.63 622.20,408.31 622.80,408.78 623.40,408.34 624.00,408.96 624.60,408.08 625.20,408.47 625.80,408.60 626.40,408.18 627.00,407.98 627.60,407.66 628.20,408.31 628.80,408.19 629.40,408.32 630.00,407.64 630.60,408.21 631.20,407.83 631.80,407.83 632.40,407.67 633.00,407.31 633.60,407.31 634.20,407.62 634.80,407.16 635.40,407.19 636.00,407.12 636.60,407.13 637.20,407.31 637.80,406.64 638.40,406.89 639.00,406.56 639.60,406.63 640.20,406.38 640.80,406.03 641.40,406.29 642.00,405.91 642.60,406.69" fill="none" stroke="#c1c1c1" stroke-width="4.4" stroke-linejoin="round" stroke-linecap="butt"/>
<polyline points="96.00,567.58 96.70,567.99 97.40,568.94 98.10,568.22 98.80,568.13 99.50,569.81 100.20,568.36 100.90,567.79 101.60,569.23 102.30,568.64 103.00,569.04 103.70,568.33 104.40,568.55 105.10,568.44 105.80,567.91 106.50,568.72 107.20,568.59 107.90,569.23 108.60,568.38 109.30,568.73 110.00,567.99 110.70,568.25 111.40,568.33 112.10,568.66 112.80,568.77 113.50,568.83 114.20,568.77 114.90,568.19 115.60,568.31 116.30,568.22 117.00,567.64 117.70,569.17 118.40,568.90 119.10,568.71 119.80,568.83 120.50,569.01 121.20,567.72 121.90,568.50 122.60,568.43 123.30,568.53 124.00,569.12 124.70,569.33 125.40,569.63 126.10,568.42 126.80,569.46 127.50,568.33 128.20,568.69 128.90,569.16 129.60,569.51 130.30,569.20 131.00,569.55 131.70,568.47 132.40,568.33 133.10,569.51 133.80,568.37 134.50,568.19 135.20,569.60 135.90,569.27 136.60,570.03 137.30,568.99 138.00,569.11 138.70,569.63 139.40,569.07 140.10,568.65 140.80,569.77 141.50,568.73 142.20,569.29 142.90,568.77 143.60,569.29 144.30,569.31 145.00,569.70 145.70,569.53 146.40,569.58 147.10,569.62 147.80,569.03 148.50,568.99 149.20,569.18 149.90,569.34 150.60,569.77 151.30,569.53 152.00,569.90 152.70,569.62 153.40,570.67 154.10,569.96 154.80,570.10 155.50,569.17 156.20,570.52 156.90,570.34 157.60,569.79 158.30,569.95 159.00,569.83 159.70,569.49 160.40,569.01 161.10,569.99 161.80,569.58 162.50,570.34 163.20,569.91 163.90,569.52 164.60,570.92 165.30,570.66 166.00,570.44 166.70,571.02 167.40,569.66 168.10,570.30 168.80,569.83 169.50,570.33 170.20,570.73 170.90,570.23 171.60,570.15 172.30,570.42 173.00,570.63 173.70,569.72 174.40,570.19 175.10,570.92 175.80,571.45 176.50,571.12 177.20,570.51 177.90,571.70 178.60,570.93 179.30,570.44 180.00,570.73 180.70,569.90 181.40,570.62 182.10,571.04 182.80,570.79 183.50,570.53 184.20,570.63 184.90,570.76 185.60,570.94 186.30,571.26 187.00,571.12 187.70,570.75 188.40,570.56 189.10,571.10 189.80,570.79 190.50,571.26 191.20,559.73 191.90,548.95 192.60,537.83 193.30,520.02 194.00,503.85 194.70,487.02 195.40,476.49 196.10,469.11 196.80,461.29 197.50,457.50 198.20,453.60 198.90,450.19 199.60,448.36 200.30,448.17 201.00,446.67 201.70,446.54 202.40,443.57 203.10,441.47 203.80,441.97 204.50,445.58 205.20,441.74 205.90,440.58 206.60,440.29 207.30,441.36 208.00,441.19 208.70,440.19 209.40,439.38 210.10,438.55 210.80,439.83 211.50,434.69 212.20,438.62 212.90,437.56 213.60,437.37 214.30,437.86 215.00,437.59 215.70,437.11 216.40,440.83 217.10,439.99 217.80,437.42 218.50,436.88 219.20,437.43 219.90,435.57 220.60,437.65 221.30,436.58 222.00,437.52 222.70,435.77 223.40,436.62 224.10,436.86 224.80,436.07 225.50,435.82 226.20,436.61 226.90,437.80 227.60,435.81 228.30,437.93 229.00,436.62 229.70,435.35 230.40,436.53 231.10,437.12 231.80,435.62 232.50,435.43 233.20,436.42 233.90,435.97 234.60,436.22 235.30,435.63 236.00,436.12 236.70,435.95 237.40,435.87 238.10,436.18 238.80,435.87 239.50,434.95 240.20,435.74 240.90,435.09 241.60,435.72 242.30,434.26 243.00,435.64 243.70,434.85 244.40,435.19 245.10,434.31 245.80,435.06 246.50,435.63 247.20,435.82 247.90,435.24 248.60,433.86 249.30,432.37 250.00,433.63 250.70,434.21 251.40,430.05 252.10,432.66 252.80,435.12 253.50,434.11 254.20,429.90 254.90,434.45 255.60,434.71 256.30,433.57 257.00,434.16 257.70,433.48 258.40,432.64 259.10,433.65 259.80,433.47 260.50,434.88 261.20,435.59 261.90,434.35 262.60,434.35 263.30,435.34 264.00,434.87 264.70,434.69 265.40,434.76 266.10,438.38 266.80,434.29 267.50,434.56 268.20,434.55 268.90,434.77 269.60,434.59 270.30,434.99 271.00,436.04 271.70,436.22 272.40,436.97 273.10,435.46 273.80,436.39 274.50,435.25 275.20,435.73 275.90,436.77 276.60,436.78 277.30,439.64 278.00,435.13 278.70,438.69 279.40,439.00 280.10,436.15 280.80,438.02 281.50,437.88 282.20,437.35 282.90,437.37 283.60,437.79 284.30,437.47 285.00,438.89 285.70,437.85 286.40,437.90 287.10,438.12 287.80,435.85 288.50,437.04 289.20,438.71 289.90,437.98 290.60,438.46 291.30,438.42 292.00,439.11 292.70,438.92 293.40,441.92 294.10,438.05 294.80,438.65 295.50,438.54 296.20,438.33 296.90,438.22 297.60,439.63 298.30,437.41 299.00,439.30 299.70,439.74 300.40,439.87 301.10,438.96 301.80,440.18 302.50,438.77 303.20,440.37 303.90,439.33 304.60,441.05 305.30,441.42 306.00,438.75 306.70,436.19 307.40,440.83 308.10,439.42 308.80,440.68 309.50,439.17 310.20,441.25 310.90,440.95 311.60,440.49 312.30,438.70 313.00,440.22 313.70,439.87 314.40,440.74 315.10,436.33 315.80,440.96 316.50,441.96 317.20,440.07 317.90,440.91 318.60,441.27 319.30,441.62 320.00,440.46 320.70,440.95 321.40,443.96 322.10,439.07 322.80,442.05 323.50,442.41 324.20,441.78 324.90,441.66 325.60,440.66 326.30,441.84 327.00,440.08 327.70,442.74 328.40,444.39 329.10,444.46 329.80,442.66 330.50,441.47 331.20,443.16 331.90,440.64 332.60,441.24 333.30,441.90 334.00,441.73 334.70,443.01 335.40,445.30 336.10,442.56 336.80,440.99 337.50,441.85 338.20,443.04 338.90,442.80 339.60,444.00 340.30,442.50 341.00,443.03 341.70,442.69 342.40,443.78 343.10,443.83 343.80,442.11 344.50,442.31 345.20,444.84 345.90,442.78 346.60,443.14 347.30,443.66 348.00,443.00 348.70,443.03 349.40,442.61 350.10,443.94 350.80,445.03 351.50,444.35 352.20,444.40 352.90,443.58 353.60,443.93 354.30,445.75 355.00,443.63 355.70,442.85 356.40,445.46 357.10,443.89 357.80,444.57 358.50,445.41 359.20,447.73 359.90,448.13 360.60,446.30 361.30,445.65 362.00,446.73 362.70,445.53 363.40,446.99 364.10,445.60 364.80,444.05 365.50,446.47 366.20,446.19 366.90,446.35 367.60,443.67 368.30,446.46 369.00,446.55 369.70,447.40 370.40,443.66 371.10,446.27 371.80,448.01 372.50,447.23 373.20,444.99 373.90,446.22 374.60,446.96 375.30,447.62 376.00,447.61 376.70,445.57 377.40,447.00 378.10,447.46 378.80,448.06 379.50,447.16 380.20,447.79 380.90,447.60 381.60,447.02 382.30,448.10 383.00,450.25 383.70,448.54 384.40,448.85 385.10,451.72 385.80,448.60 386.50,448.79 387.20,444.58 387.90,451.15 388.60,448.29 389.30,449.03 390.00,449.83 390.70,450.04 391.40,448.13 392.10,448.83 392.80,450.25 393.50,449.31 394.20,448.91 394.90,449.67 395.60,449.58 396.30,450.50 397.00,451.52 397.70,450.02 398.40,450.43 399.10,450.16 399.80,451.03 400.50,450.33 401.20,452.53 401.90,454.94 402.60,451.17 403.30,449.10 404.00,450.26 404.70,450.04 405.40,451.09 406.10,452.33 406.80,451.43 407.50,452.50 408.20,451.47 408.90,452.39 409.60,450.16 410.30,450.80 411.00,451.04 411.70,452.31 412.40,452.65 413.10,452.79 413.80,452.41 414.50,452.83 415.20,451.78 415.90,452.02 416.60,452.56 417.30,452.01 418.00,452.29 418.70,453.20 419.40,452.38 420.10,456.42 420.80,453.43 421.50,454.47 422.20,454.21 422.90,453.60 423.60,455.27 424.30,456.96 425.00,454.01 425.70,453.80 426.40,454.28 427.10,453.98 427.80,454.07 428.50,453.72 429.20,453.53 429.90,454.82 430.60,453.71 431.30,455.44 432.00,453.81 432.70,456.65 433.40,456.63 434.10,455.51 434.80,456.64 435.50,455.23 436.20,454.91 436.90,456.61 437.60,455.66 438.30,456.27 439.00,457.22 439.70,456.04 440.40,456.78 441.10,457.48 441.80,458.72 442.50,458.27 443.20,458.52 443.90,455.87 444.60,455.32 445.30,457.78 446.00,458.12 446.70,457.12 447.40,457.03 448.10,458.24 448.80,457.88 449.50,458.21 450.20,458.40 450.90,458.84 451.60,458.06 452.30,458.76 453.00,458.43 453.70,459.49 454.40,459.00 455.10,460.50 455.80,458.89 456.50,461.96 457.20,461.37 457.90,461.29 458.60,462.00 459.30,460.36 460.00,460.36 460.70,461.65 461.40,461.32 462.10,462.02 462.80,465.33 463.50,461.20 464.20,461.35 464.90,461.45 465.60,460.62 466.30,461.16 467.00,461.31 467.70,461.83 468.40,463.21 469.10,462.28 469.80,465.02 470.50,463.68 471.20,463.18 471.90,464.87 472.60,462.39 473.30,464.22 474.00,463.17 474.70,463.71 475.40,462.95 476.10,461.59 476.80,464.48 477.50,463.52 478.20,465.61 478.90,464.43 479.60,465.21 480.30,463.24 481.00,465.12 481.70,464.08 482.40,463.42 483.10,465.31 483.80,465.25 484.50,464.04 485.20,465.13 485.90,465.55 486.60,462.44 487.30,466.06 488.00,465.54 488.70,465.42 489.40,465.37 490.10,465.97 490.80,466.70 491.50,465.89 492.20,465.64 492.90,465.49 493.60,466.52 494.30,466.64 495.00,466.51 495.70,466.83 496.40,466.83 497.10,466.25 497.80,466.62 498.50,467.45 499.20,466.56 499.90,468.49 500.60,466.90 501.30,468.06 502.00,467.75 502.70,467.82 503.40,467.36 504.10,466.56 504.80,470.35 505.50,468.27 506.20,467.43 506.90,467.40 507.60,469.10 508.30,467.91 509.00,467.87 509.70,467.47 510.40,468.46 511.10,466.66 511.80,468.36 512.50,468.68 513.20,468.09 513.90,469.34 514.60,468.78 515.30,470.41 516.00,469.12 516.70,469.41 517.40,470.99 518.10,469.02 518.80,469.17 519.50,469.59 520.20,470.18 520.90,470.98 521.60,469.65 522.30,470.60 523.00,471.34 523.70,469.90 524.40,471.48 525.10,472.19 525.80,470.26 526.50,469.66 527.20,471.33 527.90,470.98 528.60,468.38 529.30,469.92 530.00,470.10 530.70,469.42 531.40,470.46 532.10,470.87 532.80,469.04 533.50,470.81 534.20,472.22 534.90,471.43 535.60,469.14 536.30,470.63 537.00,471.32 537.70,471.67 538.40,471.67 539.10,472.20 539.80,471.33 540.50,471.17 541.20,470.00 541.90,472.47 542.60,472.25 543.30,471.70 544.00,472.06 544.70,470.33 545.40,470.30 546.10,469.29 546.80,468.49 547.50,466.03 548.20,463.70 548.90,459.08 549.60,456.18 550.30,449.85 551.00,444.52 551.70,441.19 552.40,441.85 553.10,439.88 553.80,435.44 554.50,436.68 555.20,435.07 555.90,431.79 556.60,430.62 557.30,429.24 558.00,428.02 558.70,427.72 559.40,426.74 560.10,425.16 560.80,424.47 561.50,422.91 562.20,422.42 562.90,422.57 563.60,418.53 564.30,419.71 565.00,419.12 565.70,417.30 566.40,417.87 567.10,417.71 567.80,418.15 568.50,417.04 569.20,418.10 569.90,415.36 570.60,416.52 571.30,414.57 572.00,413.51 572.70,413.95 573.40,412.52 574.10,412.94 574.80,412.83 575.50,409.93 576.20,409.95 576.90,410.71 577.60,410.40 578.30,409.58 579.00,410.01 579.70,407.23 580.40,404.11 581.10,406.69 581.80,405.70 582.50,406.42 583.20,406.84 583.90,410.42 584.60,406.33 585.30,406.56 586.00,405.51 586.70,405.63 587.40,405.51 588.10,405.86 588.80,405.04 589.50,405.09 590.20,405.81 590.90,405.34 591.60,404.04 592.30,401.51 593.00,408.12 593.70,404.39 594.40,400.58 595.10,400.05 595.80,404.43 596.50,405.08 597.20,406.27 597.90,402.06 598.60,402.38 599.30,403.78 600.00,401.24 600.70,401.12 601.40,402.39 602.10,401.53 602.80,401.81 603.50,400.33 604.20,400.44 604.90,402.11 605.60,398.94 606.30,398.31 607.00,400.79 607.70,401.26 608.40,403.42 609.10,400.40 609.80,399.90 610.50,400.23 611.20,401.39 611.90,401.60 612.60,402.74 613.30,398.35 614.00,404.25 614.70,399.01 615.40,399.26 616.10,400.47 616.80,398.55 617.50,402.70 618.20,402.75 618.90,398.96 619.60,398.84 620.30,396.93 621.00,400.27 621.70,402.27 622.40,399.15 623.10,399.80 623.80,398.20 624.50,398.60 625.20,399.94 625.90,399.08 626.60,398.95 627.30,397.58 628.00,398.35 628.70,399.95 629.40,398.19 630.10,397.78 630.80,397.19 631.50,398.18 632.20,397.93 632.90,398.25 633.60,398.93 634.30,397.87 635.00,397.93 635.70,396.11 636.40,396.73 637.10,397.98 637.80,398.17 638.50,397.75 639.20,395.61 639.90,396.72 640.60,396.96 641.30,397.00 642.00,397.84 642.70,396.95" fill="none" stroke="#2e3192" stroke-width="5.3" stroke-linejoin="miter" stroke-linecap="butt"/>
<polyline points="96.00,615.31 96.80,615.08 97.60,615.15 98.40,615.55 99.20,615.12 100.00,615.90 100.80,615.39 101.60,615.79 102.40,615.45 103.20,615.90 104.00,615.93 104.80,615.60 105.60,615.40 106.40,615.43 107.20,614.56 108.00,614.43 108.80,615.21 109.60,614.56 110.40,615.13 111.20,615.35 112.00,614.93 112.80,614.93 113.60,615.20 114.40,615.72 115.20,613.99 116.00,614.70 116.80,615.16 117.60,614.83 118.40,615.70 119.20,615.82 120.00,614.73 120.80,615.49 121.60,614.89 122.40,614.72 123.20,615.19 124.00,615.94 124.80,614.95 125.60,615.95 126.40,615.13 127.20,615.77 128.00,615.74 128.80,615.26 129.60,614.35 130.40,616.27 131.20,615.33 132.00,615.29 132.80,614.67 133.60,615.23 134.40,615.07 135.20,615.43 136.00,615.48 136.80,615.12 137.60,615.30 138.40,616.52 139.20,614.79 140.00,615.92 140.80,615.42 141.60,615.13 142.40,614.97 143.20,614.89 144.00,614.82 144.80,615.07 145.60,615.03 146.40,615.02 147.20,614.95 148.00,615.39 148.80,615.02 149.60,614.96 150.40,615.02 151.20,615.15 152.00,615.18 152.80,616.01 153.60,615.01 154.40,615.71 155.20,615.01 156.00,614.71 156.80,615.49 157.60,615.06 158.40,615.43 159.20,614.38 160.00,615.64 160.80,615.26 161.60,615.33 162.40,615.26 163.20,615.25 164.00,615.07 164.80,615.62 165.60,615.49 166.40,616.20 167.20,614.43 168.00,615.45 168.80,614.61 169.60,615.33 170.40,615.75 171.20,615.67 172.00,615.26 172.80,615.04 173.60,615.30 174.40,615.18 175.20,615.05 176.00,615.60 176.80,615.56 177.60,615.10 178.40,615.54 179.20,615.24 180.00,614.93 180.80,615.41 181.60,615.35 182.40,614.89 183.20,615.14 184.00,614.97 184.80,614.83 185.60,616.20 186.40,615.19 187.20,615.10 188.00,615.72 188.80,614.95 189.60,615.60 190.40,615.91 191.20,615.32 192.00,614.96 192.80,613.96 193.60,613.83 194.40,612.71 195.20,604.96 196.00,595.71 196.80,588.16 197.60,584.49 198.40,580.66 199.20,579.39 200.00,581.37 200.80,581.80 201.60,584.09 202.40,588.56 203.20,591.02 204.00,594.56 204.80,597.89 205.60,601.31 206.40,605.03 207.20,606.97 208.00,607.94 208.80,609.30 209.60,609.71 210.40,611.15 211.20,612.27 212.00,613.53 212.80,613.49 213.60,613.46 214.40,614.62 215.20,614.40 216.00,614.55 216.80,614.64 217.60,614.04 218.40,615.26 219.20,615.10 220.00,615.04 220.80,614.31 221.60,614.96 222.40,615.20 223.20,615.35 224.00,614.83 224.80,615.23 225.60,615.10 226.40,614.83 227.20,615.11 228.00,615.44 228.80,614.84 229.60,615.65 230.40,614.99 231.20,614.57 232.00,614.48 232.80,614.51 233.60,614.32 234.40,615.33 235.20,614.31 236.00,614.14 236.80,613.90 237.60,614.31 238.40,614.70 239.20,614.38 240.00,615.48 240.80,615.13 241.60,613.83 242.40,614.82 243.20,614.38 244.00,614.52 244.80,614.36 245.60,615.06 246.40,614.26 247.20,614.83 248.00,614.77 248.80,614.34 249.60,614.07 250.40,614.54 251.20,614.83 252.00,614.98 252.80,615.44 253.60,615.20 254.40,614.50 255.20,614.16 256.00,614.63 256.80,614.36 257.60,615.17 258.40,613.97 259.20,614.75 260.00,614.79 260.80,614.77 261.60,615.19 262.40,614.29 263.20,614.62 264.00,614.50 264.80,615.65 265.60,614.79 266.40,615.10 267.20,614.45 268.00,615.16 268.80,614.26 269.60,615.40 270.40,614.66 271.20,614.75 272.00,614.31 272.80,615.11 273.60,614.91 274.40,614.44 275.20,614.39 276.00,614.53 276.80,614.91 277.60,614.69 278.40,615.65 279.20,615.07 280.00,615.23 280.80,615.72 281.60,614.13 282.40,614.81 283.20,615.01 284.00,615.63 284.80,614.86 285.60,615.00 286.40,615.24 287.20,614.66 288.00,615.37 288.80,614.42 289.60,614.76 290.40,614.68 291.20,614.86 292.00,615.39 292.80,615.36 293.60,615.62 294.40,615.27 295.20,615.46 296.00,615.23 296.80,614.89 297.60,614.61 298.40,614.74 299.20,614.19 300.00,615.09 300.80,615.54 301.60,615.52 302.40,614.44 303.20,614.75 304.00,613.78 304.80,614.85 305.60,615.23 306.40,614.37 307.20,615.06 308.00,615.12 308.80,614.99 309.60,615.86 310.40,615.26 311.20,614.77 312.00,615.25 312.80,614.99 313.60,614.85 314.40,614.59 315.20,615.40 316.00,615.12 316.80,615.03 317.60,614.30 318.40,614.69 319.20,614.88 320.00,614.53 320.80,614.71 321.60,615.05 322.40,615.15 323.20,615.42 324.00,614.15 324.80,615.69 325.60,615.44 326.40,614.71 327.20,614.89 328.00,614.42 328.80,614.83 329.60,614.70 330.40,615.12 331.20,615.32 332.00,614.58 332.80,615.45 333.60,614.79 334.40,614.85 335.20,614.67 336.00,614.97 336.80,615.10 337.60,614.74 338.40,615.91 339.20,615.06 340.00,615.60 340.80,615.32 341.60,615.14 342.40,615.62 343.20,615.18 344.00,614.57 344.80,615.71 345.60,616.09 346.40,615.10 347.20,615.32 348.00,615.22 348.80,615.28 349.60,615.38 350.40,615.13 351.20,615.45 352.00,615.19 352.80,614.57 353.60,615.70 354.40,614.66 355.20,614.46 356.00,614.46 356.80,615.00 357.60,614.68 358.40,614.74 359.20,614.44 360.00,616.00 360.80,614.73 361.60,615.30 362.40,614.54 363.20,615.31 364.00,614.23 364.80,614.06 365.60,614.91 366.40,615.21 367.20,614.80 368.00,615.30 368.80,615.61 369.60,615.72 370.40,614.78 371.20,615.32 372.00,614.38 372.80,615.37 373.60,614.76 374.40,615.38 375.20,614.82 376.00,615.19 376.80,615.14 377.60,615.82 378.40,615.72 379.20,614.80 380.00,615.31 380.80,615.55 381.60,614.69 382.40,615.12 383.20,615.91 384.00,615.30 384.80,615.01 385.60,615.35 386.40,614.97 387.20,615.03 388.00,615.48 388.80,615.60 389.60,614.97 390.40,613.91 391.20,615.20 392.00,615.55 392.80,615.73 393.60,615.73 394.40,615.10 395.20,615.15 396.00,615.44 396.80,614.85 397.60,615.25 398.40,615.20 399.20,615.14 400.00,615.71 400.80,615.19 401.60,614.92 402.40,615.70 403.20,614.89 404.00,615.32 404.80,615.67 405.60,614.74 406.40,615.34 407.20,614.39 408.00,615.73 408.80,615.43 409.60,615.54 410.40,615.19 411.20,615.78 412.00,615.49 412.80,615.22 413.60,616.12 414.40,614.28 415.20,615.97 416.00,615.18 416.80,614.99 417.60,615.25 418.40,615.05 419.20,615.76 420.00,614.69 420.80,614.49 421.60,615.31 422.40,615.60 423.20,615.76 424.00,614.55 424.80,616.21 425.60,615.03 426.40,616.44 427.20,615.23 428.00,615.52 428.80,614.57 429.60,616.21 430.40,615.86 431.20,615.19 432.00,615.53 432.80,615.08 433.60,614.90 434.40,615.58 435.20,615.41 436.00,615.90 436.80,615.33 437.60,616.10 438.40,616.30 439.20,615.71 440.00,615.83 440.80,615.37 441.60,614.79 442.40,615.28 443.20,615.59 444.00,615.31 444.80,616.15 445.60,615.40 446.40,614.69 447.20,616.19 448.00,614.90 448.80,616.05 449.60,615.93 450.40,615.15 451.20,615.75 452.00,615.42 452.80,615.11 453.60,615.84 454.40,615.17 455.20,615.36 456.00,616.02 456.80,614.93 457.60,615.23 458.40,614.93 459.20,616.19 460.00,615.16 460.80,615.77 461.60,615.44 462.40,615.34 463.20,615.38 464.00,615.78 464.80,615.30 465.60,616.19 466.40,616.01 467.20,615.19 468.00,616.18 468.80,615.62 469.60,615.68 470.40,615.63 471.20,615.81 472.00,615.70 472.80,615.54 473.60,615.77 474.40,616.30 475.20,615.39 476.00,615.55 476.80,616.12 477.60,614.99 478.40,615.71 479.20,615.59 480.00,616.28 480.80,615.95 481.60,615.27 482.40,616.03 483.20,616.71 484.00,614.62 484.80,615.09 485.60,616.88 486.40,616.06 487.20,616.10 488.00,615.34 488.80,615.86 489.60,615.69 490.40,616.04 491.20,615.48 492.00,615.87 492.80,615.71 493.60,616.34 494.40,615.75 495.20,614.68 496.00,615.75 496.80,615.62 497.60,616.26 498.40,615.25 499.20,615.63 500.00,616.01 500.80,615.76 501.60,615.93 502.40,616.46 503.20,615.33 504.00,616.02 504.80,615.98 505.60,616.82 506.40,615.77 507.20,615.94 508.00,615.63 508.80,615.53 509.60,615.83 510.40,616.44 511.20,615.47 512.00,615.18 512.80,616.14 513.60,616.00 514.40,615.67 515.20,615.50 516.00,615.65 516.80,615.99 517.60,615.40 518.40,615.72 519.20,615.86 520.00,616.29 520.80,615.56 521.60,615.95 522.40,616.89 523.20,615.72 524.00,615.79 524.80,615.37 525.60,615.60 526.40,616.59 527.20,616.23 528.00,615.39 528.80,616.34 529.60,615.54 530.40,615.39 531.20,616.46 532.00,615.63 532.80,616.28 533.60,615.94 534.40,616.25 535.20,615.40 536.00,617.00 536.80,616.66 537.60,616.30 538.40,616.09 539.20,615.50 540.00,615.08 540.80,615.34 541.60,613.08 542.40,611.23 543.20,606.79 544.00,600.26 544.80,594.03 545.60,588.43 546.40,580.93 547.20,575.83 548.00,568.79 548.80,562.64 549.60,556.09 550.40,547.63 551.20,535.49 552.00,524.24 552.80,517.30 553.60,511.22 554.40,504.34 555.20,499.09 556.00,494.26 556.80,488.24 557.60,484.17 558.40,480.57 559.20,475.12 560.00,471.34 560.80,466.55 561.60,459.93 562.40,460.08 563.20,445.34 564.00,443.03 564.80,440.99 565.60,439.24 566.40,438.18 567.20,434.96 568.00,434.96 568.80,432.95 569.60,431.62 570.40,429.76 571.20,428.46 572.00,426.78 572.80,425.63 573.60,424.90 574.40,423.24 575.20,422.14 576.00,428.73 576.80,430.62 577.60,421.40 578.40,420.40 579.20,420.91 580.00,414.41 580.80,419.10 581.60,418.70 582.40,418.97 583.20,418.68 584.00,418.14 584.80,416.99 585.60,426.21 586.40,424.04 587.20,416.04 588.00,415.23 588.80,414.46 589.60,416.29 590.40,406.51 591.20,413.24 592.00,412.79 592.80,412.21 593.60,416.11 594.40,421.82 595.20,411.43 596.00,415.59 596.80,410.14 597.60,410.81 598.40,410.96 599.20,410.25 600.00,401.72 600.80,409.26 601.60,405.14 602.40,408.66 603.20,410.95 604.00,407.72 604.80,407.32 605.60,410.72 606.40,407.54 607.20,406.93 608.00,406.85 608.80,412.81 609.60,406.70 610.40,414.65 611.20,411.22 612.00,406.01 612.80,413.26 613.60,411.37 614.40,405.74 615.20,411.71 616.00,405.33 616.80,410.61 617.60,403.85 618.40,413.23 619.20,403.91 620.00,404.38 620.80,405.61 621.60,412.63 622.40,399.54 623.20,404.65 624.00,404.86 624.80,409.02 625.60,405.26 626.40,411.19 627.20,403.90 628.00,403.91 628.80,403.46 629.60,403.63 630.40,403.46 631.20,403.29 632.00,403.36 632.80,402.34 633.60,403.37 634.40,403.45 635.20,406.60 636.00,397.39 636.80,403.06 637.60,398.21 638.40,401.17 639.20,401.44 640.00,401.64 640.80,400.49 641.60,400.71 642.40,401.59" fill="none" stroke="#ff0000" stroke-width="4.9" stroke-linejoin="miter" stroke-linecap="butt"/>
<line x1="588.4" y1="476.8" x2="609" y2="476.8" stroke="#c1c1c1" stroke-width="5.4" stroke-linecap="butt"/>
<line x1="588.4" y1="511" x2="609" y2="511" stroke="#ff0000" stroke-width="5.4" stroke-linecap="butt"/>
<line x1="588.4" y1="545.1" x2="609" y2="545.1" stroke="#2e3192" stroke-width="5.4" stroke-linecap="butt"/>
<text transform="translate(618.3,481.2) scale(1.045,1)" font-size="16" text-anchor="start" font-weight="normal" >Control</text>
<text transform="translate(618.3,515) scale(1.045,1)" font-size="16" text-anchor="start" font-weight="normal" >TMEM65</text>
<text transform="translate(618.3,549.3) scale(1.045,1)" font-size="16" text-anchor="start" font-weight="normal" >esiRNA-</text>
<text transform="translate(618.3,568.8) scale(1.045,1)" font-size="16" text-anchor="start" font-weight="normal" >TMEM65</text>
<text x="0.5" y="675.6" font-size="22" text-anchor="start" font-weight="bold" >d</text>
<line x1="93.2" y1="649.9" x2="93.2" y2="896" stroke="#000" stroke-width="2.9" stroke-linecap="butt"/>
<line x1="85.2" y1="894.6" x2="93.2" y2="894.6" stroke="#000" stroke-width="2.9" stroke-linecap="butt"/>
<text transform="translate(80.5,902.0999999999999) scale(1.045,1)" font-size="16" text-anchor="end" font-weight="normal" >0</text>
<line x1="85.2" y1="854.0500000000001" x2="93.2" y2="854.0500000000001" stroke="#000" stroke-width="2.9" stroke-linecap="butt"/>
<text transform="translate(80.5,860.8) scale(1.045,1)" font-size="16" text-anchor="end" font-weight="normal" >5</text>
<line x1="85.2" y1="813.5" x2="93.2" y2="813.5" stroke="#000" stroke-width="2.9" stroke-linecap="butt"/>
<text transform="translate(80.5,819.4999999999999) scale(1.045,1)" font-size="16" text-anchor="end" font-weight="normal" >10</text>
<line x1="85.2" y1="772.95" x2="93.2" y2="772.95" stroke="#000" stroke-width="2.9" stroke-linecap="butt"/>
<text transform="translate(80.5,778.1999999999999) scale(1.045,1)" font-size="16" text-anchor="end" font-weight="normal" >15</text>
<line x1="85.2" y1="732.4000000000001" x2="93.2" y2="732.4000000000001" stroke="#000" stroke-width="2.9" stroke-linecap="butt"/>
<text transform="translate(80.5,736.8999999999999) scale(1.045,1)" font-size="16" text-anchor="end" font-weight="normal" >20</text>
<line x1="85.2" y1="691.85" x2="93.2" y2="691.85" stroke="#000" stroke-width="2.9" stroke-linecap="butt"/>
<text transform="translate(80.5,695.5999999999999) scale(1.045,1)" font-size="16" text-anchor="end" font-weight="normal" >25</text>
<line x1="85.2" y1="651.3000000000001" x2="93.2" y2="651.3000000000001" stroke="#000" stroke-width="2.9" stroke-linecap="butt"/>
<text transform="translate(80.5,654.3) scale(1.045,1)" font-size="16" text-anchor="end" font-weight="normal" >30</text>
<text transform="translate(55.5,780.4) rotate(-90)" font-size="16" text-anchor="middle" word-spacing="1.8"><tspan x="2" y="-40">Mitochondrial Ca<tspan font-size="10" dy="-6">2+</tspan><tspan dy="6"> levels</tspan></tspan><tspan x="0" y="-19.8">(mitoGCamP6 ratio,</tspan><tspan x="2.3" y="-0.3">ex 485/410 nm)</tspan></text>
<rect x="150.6" y="665.8" width="15.6" height="15.6" fill="#c1c1c1" stroke="#111" stroke-width="1.5"/>
<rect x="150.6" y="696.6" width="15.6" height="15.6" fill="#ff0000" stroke="#111" stroke-width="1.5"/>
<rect x="150.6" y="726.8" width="15.6" height="15.6" fill="#2e3192" stroke="#111" stroke-width="1.5"/>
<text transform="translate(175,679.6) scale(1.045,1)" font-size="16" text-anchor="start" font-weight="normal" >Control</text>
<text transform="translate(175,710.2) scale(1.045,1)" font-size="16" text-anchor="start" font-weight="normal" >TMEM65</text>
<text transform="translate(175,740.2) scale(1.045,1)" font-size="16" text-anchor="start" font-weight="normal" >esiRNA-</text>
<text transform="translate(175,760.2) scale(1.045,1)" font-size="16" text-anchor="start" font-weight="normal" >TMEM65</text>
<rect x="120.4" y="886.5" width="21.000000000000007" height="7.999999999999955" fill="#c1c1c1" stroke="#000" stroke-width="2.6"/>
<rect x="154.1" y="887.6999999999999" width="21.00000000000002" height="6.800000000000023" fill="#ff0000" stroke="#000" stroke-width="2.6"/>
<rect x="187.4" y="847.9" width="21.00000000000002" height="46.59999999999998" fill="#2e3192" stroke="#000" stroke-width="2.6"/>
<circle cx="120.5" cy="883.5" r="2.7" fill="#222"/>
<circle cx="123.5" cy="882" r="2.7" fill="#222"/>
<circle cx="126.5" cy="881.5" r="2.7" fill="#222"/>
<circle cx="129" cy="879.5" r="2.7" fill="#222"/>
<circle cx="131" cy="880.5" r="2.7" fill="#222"/>
<circle cx="133.5" cy="879.5" r="2.7" fill="#222"/>
<circle cx="136" cy="882" r="2.7" fill="#222"/>
<circle cx="139" cy="883.5" r="2.7" fill="#222"/>
<circle cx="128" cy="885" r="2.7" fill="#222"/>
<circle cx="132" cy="886" r="2.7" fill="#222"/>
<circle cx="125" cy="885" r="2.7" fill="#222"/>
<circle cx="136" cy="885" r="2.7" fill="#222"/>
<circle cx="130.5" cy="887" r="2.7" fill="#222"/>
<circle cx="142.5" cy="883.6" r="1.9" fill="#222"/>
<circle cx="145" cy="883.8" r="1.9" fill="#222"/>
<circle cx="147.5" cy="883.6" r="1.9" fill="#222"/>
<circle cx="150" cy="883.8" r="1.9" fill="#222"/>
<circle cx="152.5" cy="883.6" r="1.9" fill="#222"/>
<circle cx="155.5" cy="884" r="2.7" fill="#222"/>
<circle cx="158.5" cy="883.5" r="2.7" fill="#222"/>
<circle cx="161" cy="882" r="2.7" fill="#222"/>
<circle cx="164" cy="881.5" r="2.7" fill="#222"/>
<circle cx="167" cy="882" r="2.7" fill="#222"/>
<circle cx="170" cy="883" r="2.7" fill="#222"/>
<circle cx="173" cy="883.5" r="2.7" fill="#222"/>
<circle cx="176" cy="883.8" r="2.7" fill="#222"/>
<circle cx="162" cy="886" r="2.7" fill="#222"/>
<circle cx="166" cy="886.5" r="2.7" fill="#222"/>
<circle cx="164.5" cy="884" r="2.7" fill="#222"/>
<circle cx="178.5" cy="883.7" r="2.1" fill="#222"/>
<circle cx="180.5" cy="883.7" r="2.1" fill="#222"/>
<circle cx="197.9" cy="840.5" r="2.9" fill="#222"/>
<circle cx="197.9" cy="845" r="2.9" fill="#222"/>
<circle cx="197.9" cy="852" r="2.9" fill="#222"/>
<circle cx="196" cy="855" r="2.9" fill="#222"/>
<circle cx="199.5" cy="854.5" r="2.9" fill="#222"/>
<circle cx="197.9" cy="850" r="2.9" fill="#222"/>
<line x1="197.9" y1="842.4" x2="197.9" y2="854" stroke="#222" stroke-width="2.8" stroke-linecap="butt"/>
<line x1="191.20000000000002" y1="842.4" x2="204.6" y2="842.4" stroke="#222" stroke-width="2.6" stroke-linecap="butt"/>
<line x1="191.20000000000002" y1="854" x2="204.6" y2="854" stroke="#222" stroke-width="2.6" stroke-linecap="butt"/>
<rect x="263.6" y="831.5999999999999" width="21.00000000000002" height="62.90000000000005" fill="#c1c1c1" stroke="#000" stroke-width="2.6"/>
<rect x="297.1" y="875.1999999999999" width="21.00000000000002" height="19.300000000000022" fill="#ff0000" stroke="#000" stroke-width="2.6"/>
<rect x="330.7" y="784.3" width="21.00000000000002" height="110.2" fill="#2e3192" stroke="#000" stroke-width="2.6"/>
<circle cx="274.1" cy="760.5" r="2.8" fill="#222"/>
<circle cx="274.1" cy="776.1" r="2.8" fill="#222"/>
<circle cx="274.1" cy="779.3" r="2.8" fill="#222"/>
<circle cx="274.2" cy="793" r="2.8" fill="#222"/>
<circle cx="274.2" cy="829.6" r="2.8" fill="#222"/>
<circle cx="274.2" cy="837" r="2.8" fill="#222"/>
<circle cx="274.2" cy="864" r="2.8" fill="#222"/>
<circle cx="274.2" cy="868.5" r="2.8" fill="#222"/>
<circle cx="274.2" cy="877" r="2.8" fill="#222"/>
<circle cx="274.2" cy="881.5" r="2.8" fill="#222"/>
<circle cx="270.5" cy="877" r="2.8" fill="#222"/>
<line x1="274.2" y1="786.9" x2="274.2" y2="875.5" stroke="#222" stroke-width="2.8" stroke-linecap="butt"/>
<line x1="267.4" y1="786.9" x2="281.0" y2="786.9" stroke="#222" stroke-width="2.6" stroke-linecap="butt"/>
<line x1="267.4" y1="875.5" x2="281.0" y2="875.5" stroke="#222" stroke-width="2.6" stroke-linecap="butt"/>
<circle cx="307.6" cy="860.8" r="2.8" fill="#222"/>
<circle cx="307.6" cy="864.6" r="2.8" fill="#222"/>
<circle cx="303.1" cy="868.1" r="2.8" fill="#222"/>
<circle cx="304" cy="875" r="2.8" fill="#222"/>
<circle cx="309" cy="875.5" r="2.8" fill="#222"/>
<circle cx="300.5" cy="881" r="2.8" fill="#222"/>
<circle cx="305" cy="882.5" r="2.8" fill="#222"/>
<circle cx="310" cy="882" r="2.8" fill="#222"/>
<circle cx="314.5" cy="881.5" r="2.8" fill="#222"/>
<circle cx="307.6" cy="884.5" r="2.8" fill="#222"/>
<circle cx="303" cy="879" r="2.8" fill="#222"/>
<circle cx="311" cy="878" r="2.8" fill="#222"/>
<circle cx="307.6" cy="870" r="2.8" fill="#222"/>
<line x1="307.5" y1="868" x2="307.5" y2="880" stroke="#222" stroke-width="2.8" stroke-linecap="butt"/>
<line x1="301.0" y1="868" x2="314.0" y2="868" stroke="#222" stroke-width="2.6" stroke-linecap="butt"/>
<line x1="301.0" y1="880" x2="314.0" y2="880" stroke="#222" stroke-width="2.6" stroke-linecap="butt"/>
<circle cx="341.2" cy="757" r="2.8" fill="#222"/>
<circle cx="341.2" cy="763.7" r="2.8" fill="#222"/>
<circle cx="341.2" cy="797.7" r="2.8" fill="#222"/>
<circle cx="341.2" cy="813.4" r="2.8" fill="#222"/>
<line x1="341.2" y1="757.3" x2="341.2" y2="810.6" stroke="#222" stroke-width="2.8" stroke-linecap="butt"/>
<line x1="334.4" y1="757.3" x2="348.0" y2="757.3" stroke="#222" stroke-width="2.6" stroke-linecap="butt"/>
<line x1="334.4" y1="810.6" x2="348.0" y2="810.6" stroke="#222" stroke-width="2.6" stroke-linecap="butt"/>
<rect x="406.9" y="858.9" width="21.00000000000002" height="35.59999999999998" fill="#c1c1c1" stroke="#000" stroke-width="2.6"/>
<rect x="440.3" y="887.5" width="21.00000000000002" height="6.999999999999955" fill="#ff0000" stroke="#000" stroke-width="2.6"/>
<rect x="473.7" y="791.9" width="21.00000000000002" height="102.59999999999998" fill="#2e3192" stroke="#000" stroke-width="2.6"/>
<circle cx="417.2" cy="803.7" r="2.8" fill="#222"/>
<circle cx="417.2" cy="828" r="2.8" fill="#222"/>
<circle cx="417.2" cy="840.4" r="2.8" fill="#222"/>
<circle cx="417.2" cy="847" r="2.8" fill="#222"/>
<circle cx="417.2" cy="865" r="2.8" fill="#222"/>
<circle cx="413" cy="872.9" r="2.8" fill="#222"/>
<circle cx="417.2" cy="880.4" r="2.8" fill="#222"/>
<circle cx="421" cy="880" r="2.8" fill="#222"/>
<circle cx="414" cy="881" r="2.8" fill="#222"/>
<line x1="417.2" y1="835" x2="417.2" y2="880" stroke="#222" stroke-width="2.8" stroke-linecap="butt"/>
<line x1="410.7" y1="835" x2="423.7" y2="835" stroke="#222" stroke-width="2.6" stroke-linecap="butt"/>
<line x1="410.7" y1="880" x2="423.7" y2="880" stroke="#222" stroke-width="2.6" stroke-linecap="butt"/>
<circle cx="436.5" cy="883.7" r="2.8" fill="#222"/>
<circle cx="440" cy="882.5" r="2.8" fill="#222"/>
<circle cx="444" cy="881.5" r="2.8" fill="#222"/>
<circle cx="448" cy="882" r="2.8" fill="#222"/>
<circle cx="452" cy="881" r="2.8" fill="#222"/>
<circle cx="456" cy="882" r="2.8" fill="#222"/>
<circle cx="460" cy="882.5" r="2.8" fill="#222"/>
<circle cx="464" cy="883.5" r="2.8" fill="#222"/>
<circle cx="450" cy="877" r="2.8" fill="#222"/>
<circle cx="446" cy="885" r="2.8" fill="#222"/>
<circle cx="454" cy="885" r="2.8" fill="#222"/>
<circle cx="484.3" cy="766" r="2.8" fill="#222"/>
<circle cx="484.3" cy="774.5" r="2.8" fill="#222"/>
<circle cx="484.3" cy="776.7" r="2.8" fill="#222"/>
<circle cx="484.3" cy="799.8" r="2.8" fill="#222"/>
<circle cx="484.3" cy="815.6" r="2.8" fill="#222"/>
<line x1="484.3" y1="770.2" x2="484.3" y2="812.8" stroke="#222" stroke-width="2.8" stroke-linecap="butt"/>
<line x1="477.5" y1="770.2" x2="491.1" y2="770.2" stroke="#222" stroke-width="2.6" stroke-linecap="butt"/>
<line x1="477.5" y1="812.8" x2="491.1" y2="812.8" stroke="#222" stroke-width="2.6" stroke-linecap="butt"/>
<rect x="550.3" y="749.8" width="20.999999999999908" height="144.7" fill="#c1c1c1" stroke="#000" stroke-width="2.6"/>
<rect x="583.7" y="752.3" width="20.999999999999908" height="142.2" fill="#ff0000" stroke="#000" stroke-width="2.6"/>
<rect x="617.2" y="721.3" width="20.999999999999908" height="173.2" fill="#2e3192" stroke="#000" stroke-width="2.6"/>
<circle cx="560.9" cy="673.8" r="2.8" fill="#222"/>
<circle cx="560.9" cy="678" r="2.8" fill="#222"/>
<circle cx="560.9" cy="706" r="2.8" fill="#222"/>
<circle cx="560.9" cy="710.7" r="2.8" fill="#222"/>
<circle cx="560.9" cy="720.7" r="2.8" fill="#222"/>
<circle cx="560.9" cy="735.8" r="2.8" fill="#222"/>
<circle cx="560.9" cy="741" r="2.8" fill="#222"/>
<circle cx="560.9" cy="757.6" r="2.8" fill="#222"/>
<circle cx="560.9" cy="779.7" r="2.8" fill="#222"/>
<circle cx="560.9" cy="803" r="2.8" fill="#222"/>
<circle cx="560.9" cy="811" r="2.8" fill="#222"/>
<circle cx="560.9" cy="837.7" r="2.8" fill="#222"/>
<circle cx="560.9" cy="842.9" r="2.8" fill="#222"/>
<line x1="560.9" y1="692.6" x2="560.9" y2="806.6" stroke="#222" stroke-width="2.8" stroke-linecap="butt"/>
<line x1="554.1" y1="692.6" x2="567.6999999999999" y2="692.6" stroke="#222" stroke-width="2.6" stroke-linecap="butt"/>
<line x1="554.1" y1="806.6" x2="567.6999999999999" y2="806.6" stroke="#222" stroke-width="2.6" stroke-linecap="butt"/>
<circle cx="591" cy="676.5" r="2.8" fill="#222"/>
<circle cx="596" cy="675" r="2.8" fill="#222"/>
<circle cx="594.2" cy="692.6" r="2.8" fill="#222"/>
<circle cx="594.2" cy="697" r="2.8" fill="#222"/>
<circle cx="594.2" cy="705.6" r="2.8" fill="#222"/>
<circle cx="594.2" cy="729.5" r="2.8" fill="#222"/>
<circle cx="594.2" cy="750" r="2.8" fill="#222"/>
<circle cx="590" cy="754.6" r="2.8" fill="#222"/>
<circle cx="594.2" cy="765" r="2.8" fill="#222"/>
<circle cx="594.2" cy="805" r="2.8" fill="#222"/>
<circle cx="594.2" cy="854.4" r="2.8" fill="#222"/>
<line x1="594.2" y1="685" x2="594.2" y2="818" stroke="#222" stroke-width="2.8" stroke-linecap="butt"/>
<line x1="587.4000000000001" y1="685" x2="601.0" y2="685" stroke="#222" stroke-width="2.6" stroke-linecap="butt"/>
<line x1="587.4000000000001" y1="818" x2="601.0" y2="818" stroke="#222" stroke-width="2.6" stroke-linecap="butt"/>
<circle cx="627.8" cy="689.5" r="2.8" fill="#222"/>
<circle cx="627.8" cy="704.7" r="2.8" fill="#222"/>
<circle cx="627.8" cy="724.3" r="2.8" fill="#222"/>
<circle cx="627.8" cy="746.4" r="2.8" fill="#222"/>
<circle cx="627.8" cy="755.5" r="2.8" fill="#222"/>
<line x1="627.8" y1="695" x2="627.8" y2="747" stroke="#222" stroke-width="2.8" stroke-linecap="butt"/>
<line x1="621.0" y1="695" x2="634.5999999999999" y2="695" stroke="#222" stroke-width="2.6" stroke-linecap="butt"/>
<line x1="621.0" y1="747" x2="634.5999999999999" y2="747" stroke="#222" stroke-width="2.6" stroke-linecap="butt"/>
<line x1="92" y1="894.6" x2="665" y2="894.6" stroke="#000" stroke-width="2.9" stroke-linecap="butt"/>
<path d="M131,858 V813.6 H197 V825.6" fill="none" stroke="#231f20" stroke-width="2.9"/>
<text x="164.1" y="809.20" font-size="19.5" text-anchor="middle">*</text>
<path d="M273.6,750.8 V736.5 H342.7 V745.8 M306.5,736.5 V850.2" fill="none" stroke="#231f20" stroke-width="2.9"/>
<text x="305.5" y="732.90" font-size="19.5" text-anchor="middle">*</text>
<path d="M416.6,787.5 V746.9 H485.3 V761.6 M452.5,746.9 V848.7" fill="none" stroke="#231f20" stroke-width="2.9"/>
<text x="451.5" y="743.10" font-size="19.5" text-anchor="middle">*</text>
<text transform="translate(163.4,919.6) scale(1.045,1)" font-size="21.5" text-anchor="middle" font-weight="normal" >Resting</text>
<text transform="translate(305,919.6) scale(1.045,1)" font-size="21.5" text-anchor="middle" font-weight="normal" >Peak</text>
<text transform="translate(450.1,919.6) scale(1.045,1)" font-size="21.5" text-anchor="middle" font-weight="normal" >After 3 min</text>
<text transform="translate(600.4,919.6) scale(1.045,1)" font-size="21.5" text-anchor="middle" font-weight="normal" >Ionomycin</text>
</svg>
</body></html>
